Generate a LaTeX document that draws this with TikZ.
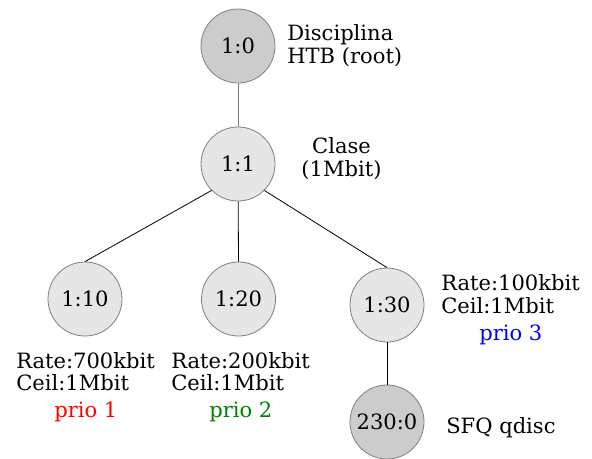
\documentclass[tikz,border=0pt]{standalone}
\usepackage{fontspec}
\setmainfont{DejaVu Serif}
\definecolor{edgegray}{HTML}{808080}
\definecolor{fillroot}{HTML}{CCCCCC}
\definecolor{fillclass}{HTML}{E6E6E6}
\definecolor{prioone}{HTML}{FF0000}
\definecolor{priotwo}{HTML}{008000}
\definecolor{priothree}{HTML}{0000FF}
\begin{document}
\begin{tikzpicture}[x=0.75pt,y=-0.75pt,
  font=\fontsize{15.8}{17}\selectfont,
  qnode/.style={circle,draw=edgegray,line width=0.6pt,minimum size=55.5pt,inner sep=0pt},
  rootq/.style={qnode,fill=fillroot},
  classq/.style={qnode,fill=fillclass},
  lbl/.style={inner sep=0pt,anchor=base west,align=left},
  lblc/.style={inner sep=0pt,anchor=base,align=center},
  link/.style={draw=black,line width=0.6pt}]
\useasboundingbox (0,0) rectangle (592,458);
\node[rootq]  (r)   at (238,46)  {1:0};
\node[classq] (c1)  at (238,164) {1:1};
\node[classq] (c10) at (85,299)  {1:10};
\node[classq] (c20) at (238.5,299) {1:20};
\node[classq] (c30) at (387,305) {1:30};
\node[rootq]  (sfq) at (387,422) {230:0};
\draw[draw=edgegray,line width=0.6pt] (r) -- (c1);
\draw[link] (c1.225) -- (c10.north);
\draw[link] (c1) -- (c20.north);
\draw[link] (c1.315) -- (c30.north);
\draw[link] (c30) -- (sfq);
\node[lbl] (troot) at (287,63.3) {Disciplina\\HTB (root)};
\node[lblc] (tclase) at (341.5,176) {Clase\\(1Mbit)};
\node[lbl] (t10) at (16,417.5) {Rate:700kbit\\Ceil:1Mbit\\[3pt]\hspace*{28.5pt}\textcolor{prioone}{prio 1}};
\node[lbl] (t20) at (171,417.5) {Rate:200kbit\\Ceil:1Mbit\\[3pt]\hspace*{28.5pt}\textcolor{priotwo}{prio 2}};
\node[lbl] (t30) at (441,340) {Rate:100kbit\\Ceil:1Mbit\\[3pt]\hspace*{28.5pt}\textcolor{priothree}{prio 3}};
\node[lbl] (tsfq) at (446,433) {SFQ qdisc};
\end{tikzpicture}
\end{document}
